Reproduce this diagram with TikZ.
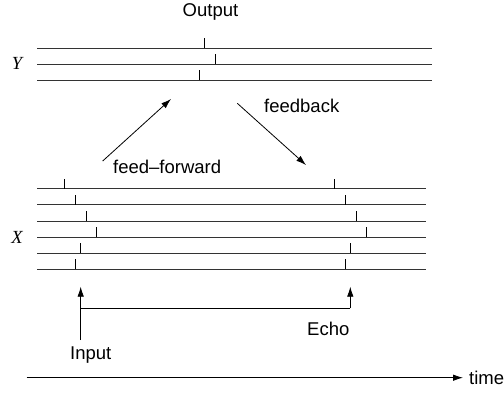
\documentclass[tikz,border=0pt]{standalone}
\usepackage{fontspec}
\setmainfont{Liberation Sans}
\newfontfamily\serifit{Liberation Serif}
\usetikzlibrary{arrows.meta}
\begin{document}
\begin{tikzpicture}[x=1pt,y=-1pt,
  track/.style={line width=0.9pt, black!80},
  tick/.style={line width=0.8pt},
  arr/.style={line width=0.8pt, -{Latex[length=10pt,width=6.5pt]}},
  lbl/.style={font=\fontsize{18.5}{20}\selectfont, inner sep=0pt, anchor=base west},
  vlbl/.style={font=\serifit\itshape\fontsize{18.5}{20}\selectfont, inner sep=0pt}]
\useasboundingbox (0,0) rectangle (504,392);
% Y tracks
\foreach \y/\t in {48.3/204.7, 64.3/215.7, 80.3/199.3}{
  \draw[track] (37.3,\y) -- (431.7,\y);
  \draw[tick] (\t,\y) -- (\t,\y-10);
}
% X tracks
\foreach \y/\a/\b in {188.7/64.3/334.3, 204.7/75.3/345, 221/86.3/356, 237.3/96.7/366.7, 253.3/80.7/350.3, 269.3/75.3/345}{
  \draw[track] (37.3,\y) -- (426,\y);
  \draw[tick] (\a,\y) -- (\a,\y-10);
  \draw[tick] (\b,\y) -- (\b,\y-10);
}
\node[vlbl] (ylab) at (17,63.5) {Y};
\node[vlbl] (xlab) at (17,237.5) {X};
\node[lbl] (out) at (182.5,16.7) {Output};
\node[lbl] (fb) at (264,112.7) {feedback};
\node[lbl] (ff) at (113,173.3) {feed--forward};
\node[lbl] (inp) at (70,359.5) {Input};
\node[lbl] (echo) at (307,335) {Echo};
\node[lbl] (time) at (469,384) {time};
% arrows
\coordinate (ffs) at (102.7,161);
\coordinate (ffe) at (171,99);
\coordinate (fbs) at (237.3,103.3);
\coordinate (fbe) at (306,165);
\draw[arr] (ffs) -- (ffe);
\draw[arr] (fbs) -- (fbe);
\coordinate (ins) at (80.7,340);
\coordinate (ine) at (80.7,286.7);
\coordinate (ec0) at (80.7,308.3);
\coordinate (ec1) at (350.3,308.3);
\coordinate (ece) at (350.3,286.7);
\draw[arr] (ins) -- (ine);
\draw[line width=0.8pt] (ec0) -- (ec1);
\draw[arr] (ec1) -- (ece);
\coordinate (ts) at (26.7,377.7);
\coordinate (te) at (463,377.7);
\draw[arr] (ts) -- (te);
\end{tikzpicture}
\end{document}
